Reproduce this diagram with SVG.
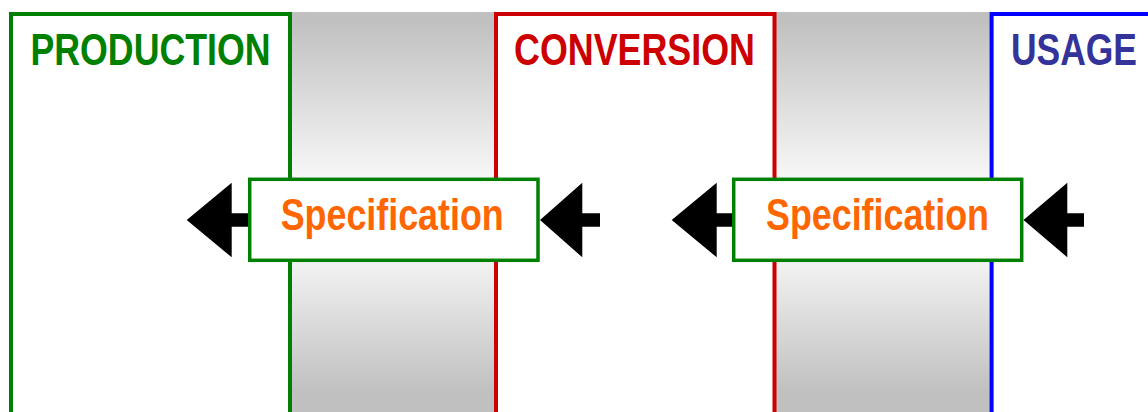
<svg xmlns="http://www.w3.org/2000/svg" width="1148" height="412" viewBox="0 0 1148 412">
  <defs>
    <linearGradient id="band" x1="0" y1="12" x2="0" y2="412" gradientUnits="userSpaceOnUse">
      <stop offset="0.02" stop-color="#c0c0c0"/>
      <stop offset="0.42" stop-color="#f8f8f8"/>
      <stop offset="0.6" stop-color="#f6f6f6"/>
      <stop offset="0.95" stop-color="#c0c0c0"/>
      <stop offset="1" stop-color="#c0c0c0"/>
    </linearGradient>
    <style>
      .title { font-family: "Liberation Sans", Arial, sans-serif; font-weight: bold; font-size: 44px; text-anchor: middle; }
      .spec { font-family: "Liberation Sans", Arial, sans-serif; font-weight: bold; font-size: 44px; text-anchor: middle; fill: #ff6600; }
      .stage { fill: #ffffff; stroke-width: 4; }
      .specbox { fill: #ffffff; stroke: #008000; stroke-width: 3.5; }
      .arrow { fill: #000000; }
    </style>
  </defs>
  <rect width="1148" height="412" fill="#ffffff"/>
  <g id="bands">
    <rect x="290" y="12" width="206" height="410" fill="url(#band)"/>
    <rect x="774" y="12" width="218" height="410" fill="url(#band)"/>
  </g>
  <g id="production">
    <rect class="stage" x="11" y="14" width="279" height="420" stroke="#008000"/>
    <text class="title" x="150.5" y="65" fill="#008000" textLength="240" lengthAdjust="spacingAndGlyphs">PRODUCTION</text>
  </g>
  <g id="conversion">
    <rect class="stage" x="496" y="14" width="278.5" height="420" stroke="#cc0000"/>
    <text class="title" x="634.5" y="65" fill="#cc0000" textLength="241" lengthAdjust="spacingAndGlyphs">CONVERSION</text>
  </g>
  <g id="usage">
    <rect class="stage" x="991.6" y="14" width="180" height="420" stroke="#0000ff"/>
    <text class="title" x="1074" y="65" fill="#333399" textLength="126" lengthAdjust="spacingAndGlyphs">USAGE</text>
  </g>
  <g id="spec1">
    <rect class="specbox" x="249.7" y="179.3" width="288.3" height="81"/>
    <text class="spec" x="392.2" y="230" textLength="223" lengthAdjust="spacingAndGlyphs">Specification</text>
  </g>
  <g id="spec2">
    <rect class="specbox" x="733.7" y="179.3" width="288" height="81"/>
    <text class="spec" x="877.5" y="230" textLength="223" lengthAdjust="spacingAndGlyphs">Specification</text>
  </g>
  <g id="connectors">
    <path class="arrow" d="M186.7 220 L231.7 182.7 L231.7 213.3 L248 213.3 L248 226.7 L231.7 226.7 L231.7 257.3 Z"/>
    <path class="arrow" d="M540 220 L582.3 182.7 L582.3 213.3 L600 213.3 L600 226.7 L582.3 226.7 L582.3 257.3 Z"/>
    <path class="arrow" d="M671.7 220 L716.7 182.7 L716.7 213.3 L732 213.3 L732 226.7 L716.7 226.7 L716.7 257.3 Z"/>
    <path class="arrow" d="M1023.5 220 L1067.3 182.7 L1067.3 213.3 L1084 213.3 L1084 226.7 L1067.3 226.7 L1067.3 257.3 Z"/>
  </g>
</svg>
